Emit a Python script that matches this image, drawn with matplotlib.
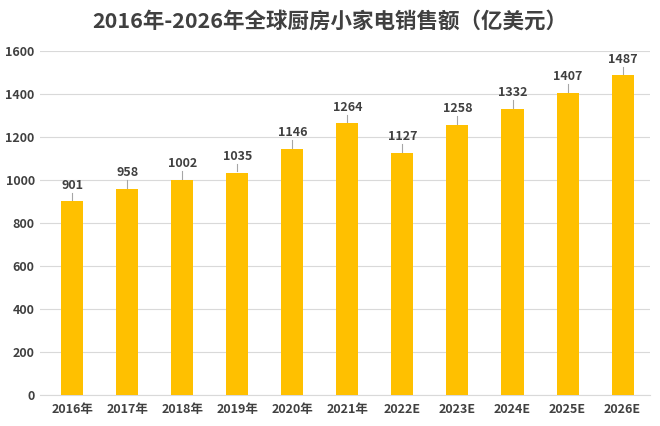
import matplotlib
matplotlib.use("Agg")
import matplotlib.pyplot as plt

plt.rcParams['font.family'] = ['Noto Sans CJK SC', 'DejaVu Sans']

years = ['2016年', '2017年', '2018年', '2019年', '2020年', '2021年',
         '2022E', '2023E', '2024E', '2025E', '2026E']
sales = [901, 958, 1002, 1035, 1146, 1264, 1127, 1258, 1332, 1407, 1487]

fig = plt.figure(figsize=(6.6, 4.26), dpi=100)
ax = fig.add_axes([0.061, 0.073, 0.924, 0.807])

x = range(len(years))
ax.bar(x, sales, width=0.4, color='#FFC000', zorder=3)

for i, v in enumerate(sales):
    ax.plot([i, i], [v + 5, v + 40], color='#A6A6A6', lw=0.8, zorder=2)
    ax.text(i, v + 45, str(v), ha='center', va='bottom', fontsize=9,
            color='#404040', fontweight='semibold')

ax.set_ylim(0, 1600)
ax.set_yticks(range(0, 1601, 200))
ax.set_xlim(-0.58, 10.5)
ax.set_xticks(list(x))
ax.set_xticklabels(years, fontsize=9, color='#404040', fontweight='semibold')
ax.tick_params(axis='y', labelsize=9, labelcolor='#404040', length=0, pad=4)
ax.tick_params(axis='x', length=0, pad=6)
for lbl in ax.get_yticklabels():
    lbl.set_fontweight('semibold')
ax.grid(axis='y', color='#D9D9D9', lw=0.8, zorder=0)
for s in ['top', 'right', 'left']:
    ax.spines[s].set_visible(False)
ax.spines['bottom'].set_color('#D9D9D9')

fig.suptitle('2016年-2026年全球厨房小家电销售额（亿美元）', fontsize=15.5,
             fontweight='bold', color='#404040', y=0.975)

fig.savefig('out.png', dpi=100)
